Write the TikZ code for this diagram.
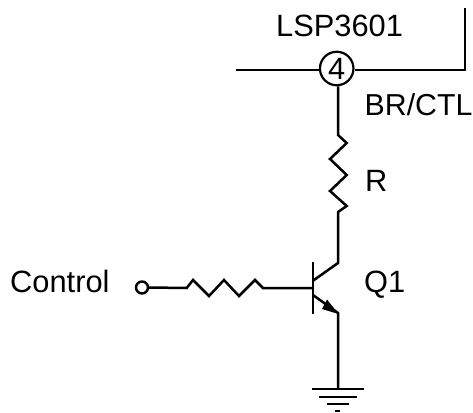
\documentclass[tikz,border=0pt]{standalone}
\usepackage{fontspec}
\setmainfont{Liberation Sans}
\usetikzlibrary{arrows.meta}
\tikzset{
  wire/.style={line width=2.5pt,line join=miter,black},
  label/.style={inner sep=0pt,anchor=base west,font=\fontsize{30.8}{36}\selectfont},
  pin/.style={circle,draw,line width=2.2pt,inner sep=0pt,minimum size=33.5pt},
  port/.style={circle,draw,line width=2.4pt,inner sep=0pt,minimum size=12pt}
}
\begin{document}
\begin{tikzpicture}[x=1pt,y=-1pt]
\useasboundingbox (0,0) rectangle (473,412);
\node[label] (lsp) at (276,37) {LSP3601};
\node[label,font=\fontsize{30.3}{36}\selectfont] (br) at (364.5,115) {BR/CTL};
\node[label] (r) at (365,191) {R};
\node[label] (q) at (364,292) {Q1};
\node[label] (ctl) at (10,292) {Control};
\node[pin,font=\fontsize{30.8}{36}\selectfont] (p4) at (336.7,68.5) {4};
\node[port] (in) at (142,287.5) {};
\coordinate (l) at (236,70);
\coordinate (rr) at (465,70);
\coordinate (rt) at (465,8);
\coordinate (gnd) at (338,389);
\draw[wire] (l) -- (l -| p4.west);
\draw[wire] (rr -| p4.east) -- (rr) -- (rt);
\draw[wire] (p4.south -| 338,0) -- (338,135) -- (346.7,143) -- (330,159) -- (346.7,175) -- (330,191) -- (346.7,206) -- (338,212) -- (338,263) -- (313,280.7);
\draw[wire] (in.east) -- (186.7,288) -- (193,280) -- (209,296) -- (224,280) -- (239,296) -- (255,280) -- (263,288) -- (313,288);
\draw[wire] (313,262) -- (313,314);
\draw[wire] (313,295) -- (338,313) -- (gnd);
\fill (338.5,314) -- (322,309) -- (327,299.5) -- cycle;
\draw[wire] (312,389) -- (364,389);
\draw[wire] (319,397) -- (357,397);
\draw[wire] (327,404) -- (349,404);
\draw[wire] (335,411) -- (340,411);
\end{tikzpicture}
\end{document}
